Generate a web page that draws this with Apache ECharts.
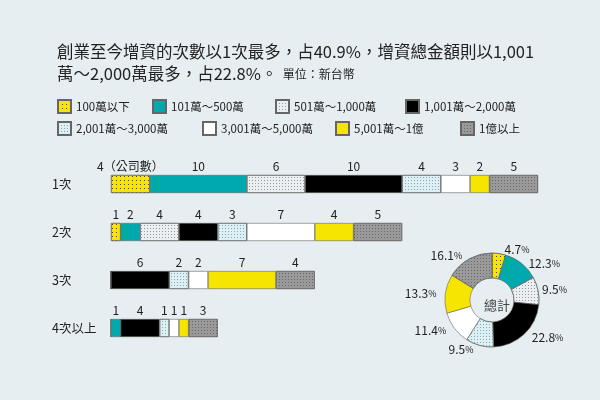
<!DOCTYPE html>
<html>
  <head>
    <meta charset="UTF-8" />
    <title>增資次數</title>
    <script src="https://cdn.jsdelivr.net/npm/echarts@6.0.0/dist/echarts.min.js"></script>
    <style>
      body { margin: 0; background: #e6eef1; }
    </style>
  </head>
  <body>
    <div id="chart" style="width: 600px; height: 400px"></div>
  </body>
  <script>
    const rounds = ['1次', '2次', '3次', '4次以上'];
    const brackets = ['100萬以下', '101萬～500萬', '501萬～1,000萬', '1,001萬～2,000萬',
                      '2,001萬～3,000萬', '3,001萬～5,000萬', '5,001萬～1億', '1億以上'];
    // counts per bracket, one array per round
    const round1 = [4, 10, 6, 10, 4, 3, 2, 5];
    const round2 = [1, 2, 4, 4, 3, 7, 4, 5];
    const round3 = [0, 0, 0, 6, 2, 2, 7, 4];
    const round4 = [0, 1, 0, 4, 1, 1, 1, 3];
    const totalPct = [4.7, 12.3, 9.5, 22.8, 9.5, 11.4, 13.3, 16.1];

    const colors = ['#f6e500', '#00a9ad', '#eceff1', '#000000', '#dceff3', '#ffffff', '#f6e500', '#9a9a9a'];
    const decals = [
      { symbol: 'rect', symbolSize: 1, dashArrayX: [[1, 3]], dashArrayY: [1, 3], color: '#444' },
      'none',
      { symbol: 'rect', symbolSize: 1, dashArrayX: [[1, 2]], dashArrayY: [1, 2], color: '#999' },
      'none',
      { symbol: 'rect', symbolSize: 1, dashArrayX: [[1, 2]], dashArrayY: [1, 2], color: '#8ab' },
      'none',
      'none',
      { symbol: 'rect', symbolSize: 1, dashArrayX: [[1, 2]], dashArrayY: [1, 2], color: '#666' }
    ];
    const rows = [round1, round2, round3, round4];

    let myChart = echarts.init(document.getElementById('chart'));

    function style(i) {
      let s = { color: colors[i], borderColor: '#666', borderWidth: 0.6 };
      if (decals[i] !== 'none') s.decal = decals[i];
      return s;
    }

    let series = brackets.map((name, i) => ({
      name: name,
      type: 'bar',
      stack: 'all',
      barWidth: 18,
      itemStyle: style(i),
      label: {
        show: true,
        position: 'top',
        distance: 3,
        color: '#222',
        fontSize: 12,
        formatter: p => p.value === 0 ? '' : (i === 0 && p.dataIndex === 0 ? p.value + '（公司數）' : p.value)
      },
      data: rows.map(r => r[i])
    }));

    series.push({
      type: 'pie',
      center: [492, 300],
      radius: [22, 47],
      startAngle: 90,
      clockwise: true,
      itemStyle: { borderColor: '#555', borderWidth: 0.6 },
      label: {
        position: 'outside',
        formatter: p => '{n|' + p.value + '}{s|%}',
        rich: { n: { fontSize: 12, color: '#222' }, s: { fontSize: 9, color: '#222' } }
      },
      labelLine: { show: false, length: 4, length2: 0 },
      data: totalPct.map((v, i) => ({ name: brackets[i], value: v, itemStyle: style(i) }))
    });

    const legendPos = [[52, 94], [147, 94], [270, 94], [400, 94], [52, 116], [197, 116], [330, 116], [455, 116]];
    let legends = brackets.map((name, i) => ({
      data: [name],
      icon: 'rect',
      left: legendPos[i][0],
      top: legendPos[i][1],
      itemWidth: 13,
      itemHeight: 13,
      itemGap: 0,
      textStyle: { fontSize: 11.5, color: '#222' },
      selectedMode: false
    }));

    myChart.setOption({
      backgroundColor: '#e6eef1',
      textStyle: { fontFamily: 'Noto Sans CJK TC' },
      title: [{
        text: '創業至今增資的次數以1次最多，占40.9%，增資總金額則以1,001\n萬～2,000萬最多，占22.8%。{u|  單位：新台幣}',
        left: 52,
        top: 36,
        textStyle: {
          fontSize: 16.5, fontWeight: 'normal', color: '#222', lineHeight: 22,
          rich: { u: { fontSize: 12, color: '#222' } }
        }
      }, {
        text: '總計',
        left: 492,
        top: 300,
        textAlign: 'center',
        textVerticalAlign: 'middle',
        textStyle: { fontSize: 13, fontWeight: 'normal', color: '#444' }
      }],
      legend: legends,
      grid: { left: 111, right: 62, top: 160, bottom: 48 },
      xAxis: { type: 'value', min: 0, max: 44, show: false },
      yAxis: {
        type: 'category',
        inverse: true,
        data: rounds,
        axisLine: { show: false },
        axisTick: { show: false },
        axisLabel: { align: 'left', margin: 59, fontSize: 12.5, color: '#222' }
      },
      series: series
    });
  </script>
</html>
